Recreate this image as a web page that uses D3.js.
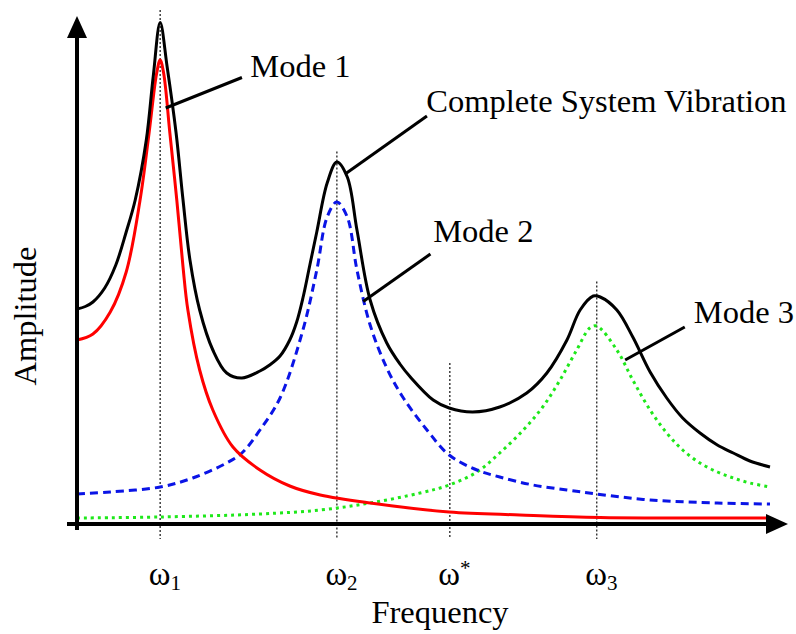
<!DOCTYPE html>
<html>
<head>
<meta charset="utf-8">
<script src="https://cdn.jsdelivr.net/npm/d3@7"></script>
<style>
  body { margin: 0; background: #fff; }
  svg { display: block; }
  text { font-family: "Liberation Serif", "Times New Roman", serif; }
</style>
</head>
<body>
<div id="chart"></div>
<script>
// values (frequency 0-10, amplitude 0-10)
const completeFreq = [0, 0.12, 0.23, 0.4, 0.56, 0.71, 0.84, 1.0, 1.1, 1.2, 1.3, 1.43, 1.53, 1.63, 1.77, 1.96, 2.16, 2.38, 2.64, 2.78, 2.93, 3.07, 3.17, 3.26, 3.36, 3.46, 3.61, 3.75, 3.9, 4.04, 4.23, 4.47, 4.66, 4.81, 5.14, 5.37, 5.71, 6.1, 6.49, 6.78, 7.07, 7.26, 7.45, 7.55, 7.79, 8.02, 8.27, 8.51, 8.74, 8.99, 9.24, 9.47, 9.71, 10];
const completeAmp  = [4.3, 4.35, 4.44, 4.72, 5.18, 5.84, 6.48, 7.68, 8.95, 10.03, 9.15, 7.82, 6.48, 5.28, 4.28, 3.48, 3.02, 2.92, 3.06, 3.18, 3.36, 3.68, 4.04, 4.52, 5.18, 5.84, 6.82, 7.24, 6.94, 5.88, 4.48, 3.62, 3.2, 2.94, 2.48, 2.32, 2.24, 2.34, 2.62, 3.02, 3.68, 4.28, 4.56, 4.54, 4.28, 3.74, 3.04, 2.52, 2.12, 1.82, 1.58, 1.42, 1.26, 1.14];

const mode1Freq = [0, 0.23, 0.48, 0.71, 0.91, 1.04, 1.15, 1.2, 1.25, 1.34, 1.44, 1.53, 1.6, 1.77, 1.96, 2.25, 2.64, 3.07, 3.51, 4.23, 5.37, 6.39, 7.55, 10];
const mode1Amp  = [3.68, 3.8, 4.24, 5.04, 6.48, 7.82, 9.02, 9.28, 9.02, 7.82, 6.48, 5.14, 4.28, 3.08, 2.28, 1.54, 1.08, 0.76, 0.58, 0.42, 0.24, 0.18, 0.13, 0.12];

const mode2Freq = [0, 0.48, 1.2, 1.67, 2.16, 2.38, 2.64, 2.93, 3.26, 3.46, 3.61, 3.75, 3.9, 4.04, 4.23, 4.47, 4.70, 5.05, 5.37, 5.77, 6.1, 6.58, 7.07, 7.5, 8.27, 9.24, 10];
const mode2Amp  = [0.6, 0.64, 0.74, 0.92, 1.22, 1.42, 1.88, 2.52, 3.88, 5.08, 6.14, 6.44, 6.14, 5.08, 3.98, 3.12, 2.54, 1.88, 1.38, 1.08, 0.94, 0.78, 0.68, 0.6, 0.48, 0.42, 0.4];

const mode3Freq = [0, 1.2, 2.64, 3.51, 4.23, 4.95, 5.37, 5.77, 6.1, 6.44, 6.72, 6.97, 7.21, 7.4, 7.5, 7.79, 8.02, 8.27, 8.51, 8.74, 8.99, 9.24, 9.47, 9.71, 10];
const mode3Amp  = [0.12, 0.14, 0.2, 0.28, 0.42, 0.62, 0.78, 1.04, 1.42, 1.88, 2.34, 2.88, 3.48, 3.92, 3.96, 3.48, 2.88, 2.28, 1.82, 1.48, 1.22, 1.04, 0.92, 0.82, 0.74];

// special frequencies and how high their guide lines reach
const tickFreq  = [1.2, 3.75, 5.38, 7.5];
const tickMarks = ["1", "2", "*", "3"];
const guideTop  = [10.28, 7.45, 3.22, 4.85];

const labels = ["Mode 1", "Complete System Vibration", "Mode 2", "Mode 3"];

const W = 796, H = 634;
const svg = d3.select("#chart").append("svg")
  .attr("width", W).attr("height", H);

const x = d3.scaleLinear().domain([0, 10]).range([77, 770]);
const y = d3.scaleLinear().domain([0, 10]).range([524, 24]);

// guide lines at the special frequencies
svg.append("g").selectAll("line")
  .data(tickFreq)
  .join("line")
  .attr("x1", d => x(d)).attr("x2", d => x(d))
  .attr("y1", (d, i) => y(guideTop[i]))
  .attr("y2", y(-0.3))
  .attr("stroke", "#222")
  .attr("stroke-width", 1.3)
  .attr("stroke-dasharray", "2,2");

// curves
const line = d3.line()
  .x(d => x(d[0]))
  .y(d => y(d[1]))
  .curve(d3.curveCatmullRom.alpha(0.5));

const series = [
  { fx: mode3Freq, ay: mode3Amp, color: "#1ee81a", dash: "3,4" },
  { fx: mode2Freq, ay: mode2Amp, color: "#0a14e6", dash: "8,5" },
  { fx: mode1Freq, ay: mode1Amp, color: "#ff0000", dash: null },
  { fx: completeFreq, ay: completeAmp, color: "#000", dash: null }
];

svg.append("g").selectAll("path")
  .data(series)
  .join("path")
  .attr("d", s => line(s.fx.map((f, i) => [f, s.ay[i]])))
  .attr("fill", "none")
  .attr("stroke", s => s.color)
  .attr("stroke-width", 3)
  .attr("stroke-dasharray", s => s.dash);

// axes with arrow heads
const x0 = x(0), y0 = y(0);
svg.append("line")
  .attr("x1", x0).attr("x2", x0)
  .attr("y1", y0 + 6).attr("y2", 34)
  .attr("stroke", "#000").attr("stroke-width", 4);
svg.append("path")
  .attr("d", `M${x0},16 L${x0 - 10},38 L${x0 + 10},38 Z`)
  .attr("fill", "#000");

svg.append("line")
  .attr("x1", x0 - 10).attr("x2", 770)
  .attr("y1", y0).attr("y2", y0)
  .attr("stroke", "#000").attr("stroke-width", 4);
svg.append("path")
  .attr("d", `M788,${y0} L766,${y0 - 10} L766,${y0 + 10} Z`)
  .attr("fill", "#000");

// tick labels (omega with sub/superscript)
const xAxis = svg.append("g")
  .attr("transform", `translate(0,${y0})`)
  .call(d3.axisBottom(x).tickValues(tickFreq).tickSize(0).tickFormat(""));
xAxis.select(".domain").remove();

xAxis.selectAll(".tick text")
  .attr("y", 61)
  .attr("dy", 0)
  .attr("x", -12)
  .attr("text-anchor", "start")
  .attr("fill", "#000")
  .style("font-family", "'Liberation Serif', 'Times New Roman', serif")
  .style("font-size", "33px")
  .each(function(d, i) {
    const t = d3.select(this);
    t.append("tspan").text("ω");
    const sup = tickMarks[i] === "*";
    t.append("tspan")
      .attr("dy", sup ? -10 : 5)
      .style("font-size", "21px")
      .text(tickMarks[i]);
  });

// axis titles
svg.append("text")
  .attr("x", 440).attr("y", 623)
  .attr("text-anchor", "middle")
  .style("font-size", "32.5px")
  .text("Frequency");

svg.append("text")
  .attr("transform", "translate(36,316) rotate(-90)")
  .attr("text-anchor", "middle")
  .style("font-size", "32.5px")
  .text("Amplitude");

// curve labels with leader lines
const callouts = [
  { tx: 2.5,  ty: 8.94, lx1: 2.38, ly1: 8.93, lx2: 1.28, ly2: 8.32 },
  { tx: 5.04, ty: 8.24, lx1: 5.05, ly1: 8.16, lx2: 3.88, ly2: 7.01 },
  { tx: 5.14, ty: 5.64, lx1: 5.1,  ly1: 5.4,  lx2: 4.13, ly2: 4.45 },
  { tx: 8.9,  ty: 4.02, lx1: 8.77, ly1: 3.94, lx2: 7.91, ly2: 3.28 }
];

const ann = svg.append("g");
ann.selectAll("line")
  .data(callouts)
  .join("line")
  .attr("x1", d => x(d.lx1)).attr("y1", d => y(d.ly1))
  .attr("x2", d => x(d.lx2)).attr("y2", d => y(d.ly2))
  .attr("stroke", "#000")
  .attr("stroke-width", 3);

ann.selectAll("text")
  .data(callouts)
  .join("text")
  .attr("x", d => x(d.tx))
  .attr("y", d => y(d.ty))
  .style("font-size", "32.5px")
  .text((d, i) => labels[i]);
</script>
</body>
</html>
